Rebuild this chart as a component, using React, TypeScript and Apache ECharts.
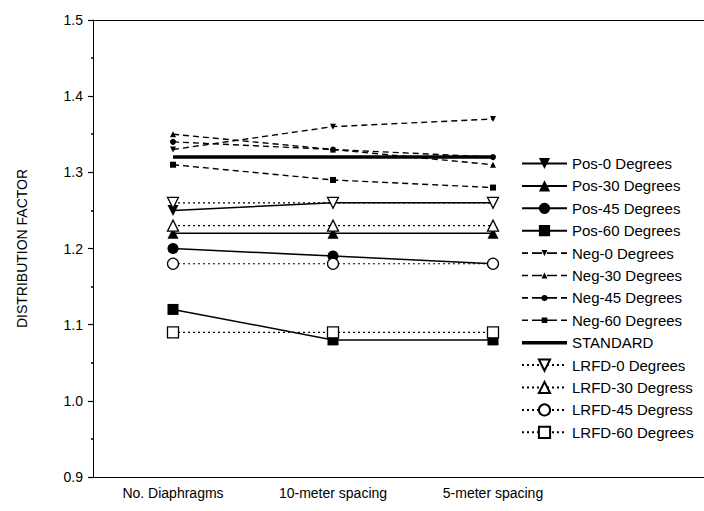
import React, { useEffect, useRef } from "react";
import * as echarts from "echarts";

const categories = ["No. Diaphragms", "10-meter spacing", "5-meter spacing", ""];

const pos0 = [1.25, 1.26, 1.26];
const pos30 = [1.22, 1.22, 1.22];
const pos45 = [1.2, 1.19, 1.18];
const pos60 = [1.12, 1.08, 1.08];
const neg0 = [1.33, 1.36, 1.37];
const neg30 = [1.35, 1.33, 1.31];
const neg45 = [1.34, 1.33, 1.32];
const neg60 = [1.31, 1.29, 1.28];
const standard = [1.32, 1.32, 1.32];
const lrfd0 = [1.26, 1.26, 1.26];
const lrfd30 = [1.23, 1.23, 1.23];
const lrfd45 = [1.18, 1.18, 1.18];
const lrfd60 = [1.09, 1.09, 1.09];

const yTicks = { min: 0.9, max: 1.5, interval: 0.1 };

type Kind = "pos" | "neg" | "lrfd" | "std";

const DASHES =
  "M0,6.2L6,6.2L6,7.8L0,7.8Z M10,6.2L20,6.2L20,7.8L10,7.8Z M25,6.2L35,6.2L35,7.8L25,7.8Z M39,6.2L45,6.2L45,7.8L39,7.8Z ";
const NEG_MARKERS: Record<string, string> = {
  down: "M19.5,4L25.5,4L22.5,10Z",
  up: "M22.5,4L25.5,10L19.5,10Z",
  circle: "M25.5,7A3,3 0 1 1 19.5,7A3,3 0 1 1 25.5,7Z",
  square: "M19.7,4.2L25.3,4.2L25.3,9.8L19.7,9.8Z",
};
const negIcon = (k: string) => "path://" + DASHES + NEG_MARKERS[k];

function mk(name: string, data: number[], kind: Kind, symbol: string, rotate = 0) {
  const base: any = {
    name,
    type: "line",
    data,
    symbol: kind === "std" ? "none" : symbol,
    symbolRotate: rotate,
    z: kind === "lrfd" ? 3 : 2,
  };
  if (kind === "pos") {
    base.symbolSize = 11;
    base.lineStyle = { color: "#000", width: 1.5, type: "solid" };
    base.itemStyle = { color: "#000" };
  } else if (kind === "neg") {
    base.symbolSize = 6;
    base.lineStyle = { color: "#000", width: 1.4, type: [6, 4] };
    base.itemStyle = { color: "#000" };
  } else if (kind === "lrfd") {
    base.symbolSize = 11;
    base.lineStyle = { color: "#000", width: 1.2, type: [2, 3] };
    base.itemStyle = { color: "#fff", borderColor: "#000", borderWidth: 1.3 };
  } else {
    base.lineStyle = { color: "#000", width: 3.5, type: "solid" };
    base.itemStyle = { color: "#000" };
  }
  return base;
}

export default function App() {
  const ref = useRef<HTMLDivElement>(null);
  useEffect(() => {
    const chart = echarts.init(ref.current!, null, { renderer: "svg" });
    const font = "Arial, 'Liberation Sans', sans-serif";
    const series = [
      mk("Pos-0 Degrees", pos0, "pos", "triangle", 180),
      mk("Pos-30 Degrees", pos30, "pos", "triangle"),
      mk("Pos-45 Degrees", pos45, "pos", "circle"),
      mk("Pos-60 Degrees", pos60, "pos", "rect"),
      mk("Neg-0 Degrees", neg0, "neg", "triangle", 180),
      mk("Neg-30 Degrees", neg30, "neg", "triangle"),
      mk("Neg-45 Degrees", neg45, "neg", "circle"),
      mk("Neg-60 Degrees", neg60, "neg", "rect"),
      mk("STANDARD", standard, "std", "none"),
      mk("LRFD-0 Degrees", lrfd0, "lrfd", "triangle", 180),
      mk("LRFD-30 Degress", lrfd30, "lrfd", "triangle"),
      mk("LRFD-45 Degress", lrfd45, "lrfd", "circle"),
      mk("LRFD-60 Degrees", lrfd60, "lrfd", "rect"),
    ];
    const legendIcons: Record<string, string> = {
      "Neg-0 Degrees": negIcon("down"),
      "Neg-30 Degrees": negIcon("up"),
      "Neg-45 Degrees": negIcon("circle"),
      "Neg-60 Degrees": negIcon("square"),
      STANDARD: "path://M0,0L45,0L45,3.5L0,3.5Z",
    };
    chart.setOption({
      animation: false,
      textStyle: { fontFamily: font, color: "#000" },
      grid: {
        left: 93,
        top: 20,
        bottom: 34,
        right: 7,
        show: false,
      },
      legend: {
        orient: "vertical",
        left: 521,
        top: 156,
        padding: 0,
        itemWidth: 45,
        itemHeight: 14,
        itemGap: 7.4,
        textStyle: { fontSize: 15, lineHeight: 14, color: "#000", fontFamily: font },
        data: series.map((s) =>
          legendIcons[s.name] ? { name: s.name, icon: legendIcons[s.name] } : s.name
        ),
      },
      xAxis: [
        {
          type: "category",
          data: categories,
          boundaryGap: true,
          axisLine: { lineStyle: { color: "#000", width: 1 } },
          axisTick: { alignWithLabel: true, length: 5, lineStyle: { color: "#000", width: 1.2 } },
          axisLabel: { fontSize: 14, color: "#000", margin: 9, interval: 0 },
          splitLine: { show: false },
        },
        {
          type: "category",
          data: categories,
          boundaryGap: true,
          position: "bottom",
          axisLine: { show: false },
          axisTick: { inside: true, length: 2, lineStyle: { color: "#000", width: 1.5 } },
          axisLabel: { show: false },
        },
        {
          type: "category",
          data: categories,
          boundaryGap: true,
          position: "top",
          axisLine: { show: true, lineStyle: { color: "#000", width: 1 } },
          axisTick: { inside: true, alignWithLabel: true, length: 2, lineStyle: { color: "#000", width: 1.5 } },
          axisLabel: { show: false },
        },
        {
          type: "category",
          data: categories,
          boundaryGap: true,
          position: "top",
          axisLine: { show: false },
          axisTick: { inside: true, length: 2, lineStyle: { color: "#000", width: 1.5 } },
          axisLabel: { show: false },
        },
      ],
      yAxis: {
        type: "value",
        min: yTicks.min,
        max: yTicks.max,
        interval: yTicks.interval,
        name: "DISTRIBUTION FACTOR",
        nameLocation: "middle",
        nameRotate: 90,
        nameGap: 64,
        nameTextStyle: { fontSize: 14, color: "#000", fontFamily: font },
        axisLine: { show: true, lineStyle: { color: "#000", width: 1 } },
        axisTick: { show: true, length: 5, lineStyle: { color: "#000", width: 1.2 } },
        minorTick: { show: true, splitNumber: 2, length: 2, lineStyle: { color: "#000", width: 1.5 } },
        axisLabel: {
          fontSize: 14,
          color: "#000",
          margin: 10,
          formatter: (v: number) => v.toFixed(1),
        },
        splitLine: { show: false },
      },
      series,
    });
    return () => chart.dispose();
  }, []);
  return (
    <div style={{ width: 704, height: 511, position: "absolute", left: 0, top: 0, overflow: "hidden" }}>
      <div ref={ref} style={{ width: 740, height: 511 }} />
    </div>
  );
}
